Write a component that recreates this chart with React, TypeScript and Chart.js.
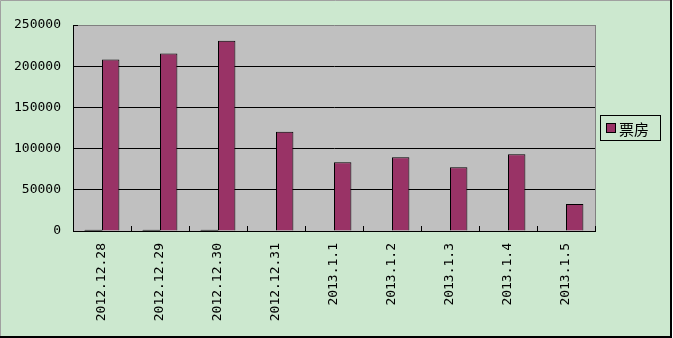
import React, { useEffect, useRef } from "react";
import { Chart, registerables } from "chart.js";

Chart.register(...registerables);

const categories = [
  "2012.12.28",
  "2012.12.29",
  "2012.12.30",
  "2012.12.31",
  "2013.1.1",
  "2013.1.2",
  "2013.1.3",
  "2013.1.4",
  "2013.1.5",
];
const smallSeries: (number | null)[] = [1300, 1300, 1300, null, null, null, null, null, null];
const boxOffice = [208000, 215500, 231000, 120500, 83500, 89500, 77400, 93200, 32700];
const legendLabel = "票房";

const W = 673;
const H = 338;

const framePlugin = {
  id: "frame",
  beforeDraw(chart: any) {
    const { ctx, chartArea } = chart;
    ctx.save();
    ctx.fillStyle = "#CCE8CF";
    ctx.fillRect(0, 0, W, H);
    ctx.fillStyle = "#C0C0C0";
    ctx.fillRect(chartArea.left, chartArea.top, chartArea.right - chartArea.left, chartArea.bottom - chartArea.top);
    ctx.restore();
  },
  afterDatasetsDraw(chart: any) {
    const { ctx, chartArea } = chart;
    const { left, right, top, bottom } = chartArea;
    ctx.save();
    ctx.strokeStyle = "#808080";
    ctx.lineWidth = 1;
    ctx.beginPath();
    ctx.moveTo(Math.round(right) + 0.5, top);
    ctx.lineTo(Math.round(right) + 0.5, bottom);
    ctx.stroke();
    ctx.strokeStyle = "#000000";
    const n = categories.length;
    const w = (right - left) / n;
    ctx.beginPath();
    for (let i = 0; i <= n; i++) {
      const x = Math.round(left + i * w) + 0.5;
      ctx.moveTo(x, bottom);
      ctx.lineTo(x, bottom - 5);
    }
    ctx.moveTo(left, Math.round(top) + 0.5);
    ctx.lineTo(left + 5, Math.round(top) + 0.5);
    ctx.stroke();
    ctx.restore();
  },
  afterDraw(chart: any) {
    const { ctx } = chart;
    ctx.save();
    ctx.strokeStyle = "#000000";
    ctx.lineWidth = 1;
    ctx.strokeRect(600.5, 115.5, 60, 25);
    ctx.fillStyle = "#993366";
    ctx.fillRect(606, 123, 10, 10);
    ctx.strokeRect(606.5, 123.5, 9, 9);
    ctx.fillStyle = "#000000";
    ctx.font = "15px 'Noto Sans CJK SC'";
    ctx.textBaseline = "middle";
    ctx.textAlign = "left";
    ctx.fillText(legendLabel, 619, 129);
    ctx.strokeStyle = "#A0A0A0";
    ctx.beginPath();
    ctx.moveTo(0.5, 336);
    ctx.lineTo(0.5, 0.5);
    ctx.lineTo(670, 0.5);
    ctx.stroke();
    ctx.fillStyle = "#000000";
    ctx.fillRect(670, 0, 2, 338);
    ctx.fillRect(0, 336, 672, 2);
    ctx.fillStyle = "#FFFFFF";
    ctx.fillRect(672, 0, 1, 338);
    ctx.restore();
  },
};

export default function App() {
  const ref = useRef<HTMLCanvasElement>(null);
  useEffect(() => {
    document.body.style.margin = "0";
    const canvas = ref.current!;
    const chart = new Chart(canvas, {
      type: "bar",
      data: {
        labels: categories,
        datasets: [
          {
            label: "small",
            data: smallSeries as any,
            backgroundColor: "#000000",
            borderColor: "#000000",
            borderWidth: 0,
            categoryPercentage: 0.6,
            barPercentage: 1,
          },
          {
            label: legendLabel,
            data: boxOffice,
            backgroundColor: "#993366",
            borderColor: "#000000",
            borderWidth: 1,
            categoryPercentage: 0.6,
            barPercentage: 1,
          },
        ],
      },
      plugins: [framePlugin],
      options: {
        responsive: false,
        animation: false,
        devicePixelRatio: 1,
        layout: { padding: { left: 0, right: 78, top: 25, bottom: 0 } },
        plugins: { legend: { display: false }, tooltip: { enabled: false } },
        scales: {
          x: {
            grid: { display: false, drawTicks: false },
            border: { display: true, color: "#000000", width: 1 },
            ticks: {
              minRotation: 90,
              maxRotation: 90,
              padding: 12,
              color: "#000000",
              font: { family: "'DejaVu Sans Mono'", size: 13 },
            },
            afterFit(scale: any) {
              scale.height = 107;
            },
          },
          y: {
            min: 0,
            max: 250000,
            grid: {
              drawTicks: false,
              color: (c: any) => (c.tick && c.tick.value === 250000 ? "#808080" : "#000000"),
              lineWidth: 1,
            },
            border: { display: true, color: "#000000", width: 1 },
            ticks: {
              stepSize: 50000,
              padding: 12,
              color: "#000000",
              font: { family: "'DejaVu Sans Mono'", size: 13 },
              callback: (v: any) => String(v),
            },
            afterFit(scale: any) {
              scale.width = 73;
            },
          },
        },
      },
    });
    return () => chart.destroy();
  }, []);
  return <canvas ref={ref} width={W} height={H} style={{ display: "block" }} />;
}
